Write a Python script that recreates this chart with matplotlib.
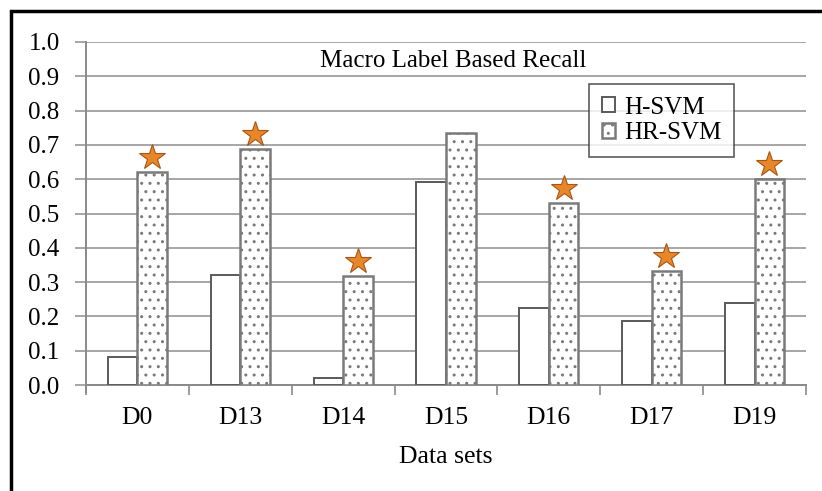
import matplotlib
matplotlib.use("Agg")
import numpy as np
import matplotlib.pyplot as plt
import matplotlib.transforms as mtransforms
from matplotlib.patches import Rectangle

# data
DATASETS = ["D0", "D13", "D14", "D15", "D16", "D17", "D19"]
H_SVM = [0.083, 0.32, 0.02, 0.593, 0.224, 0.187, 0.24]
HR_SVM = [0.62, 0.687, 0.318, 0.735, 0.53, 0.333, 0.60]
STARRED = [True, True, True, False, True, True, True]
Y_TICKS = [0.0, 0.1, 0.2, 0.3, 0.4, 0.5, 0.6, 0.7, 0.8, 0.9, 1.0]

plt.rcParams["font.family"] = ["Liberation Serif", "DejaVu Serif"]
plt.rcParams["hatch.color"] = "#9a9a9a"
plt.rcParams["hatch.linewidth"] = 1.0

W, H = 822, 491
fig = plt.figure(figsize=(W / 100, H / 100), dpi=100)
ax = fig.add_axes([86 / W, 1 - 385 / H, 720 / W, 343 / H])

# outer frame (only left and top edges visible in the picture)
fig.patches.append(Rectangle((11 / W, -0.2), 1.2, 1 - 11 / H + 0.2,
                             transform=fig.transFigure, fill=False,
                             edgecolor="black", linewidth=2.5, zorder=0))

x = np.arange(len(DATASETS))
bw = 0.287
ax.bar(x - bw / 2, H_SVM, bw, color="white", edgecolor="#5a5a5a",
       linewidth=1.4, label="H-SVM", zorder=3)
ax.bar(x + bw / 2, HR_SVM, bw, color="white", edgecolor="#7a7a7a",
       linewidth=1.8, hatch="..", label="HR-SVM", zorder=3)

# stars above selected HR-SVM bars
star_tr = mtransforms.offset_copy(ax.transData, fig=fig, x=0, y=11, units="points")
for xi, v, s in zip(x, HR_SVM, STARRED):
    if s:
        ax.plot(xi + bw / 2, v, marker="*", markersize=19, color="#e8862a",
                markeredgecolor="#a85515", markeredgewidth=0.8,
                transform=star_tr, zorder=5, clip_on=False)

ax.set_xlim(-0.5, len(DATASETS) - 0.5)
ax.set_ylim(0, 1.0)
ax.set_yticks(Y_TICKS)
ax.set_yticklabels([f"{t:.1f}" for t in Y_TICKS], fontsize=18)
ax.yaxis.grid(True, color="#a6a6a6", linewidth=1.4, zorder=0)
ax.set_axisbelow(True)

# category separators as ticks
ax.set_xticks(np.arange(len(DATASETS) + 1) - 0.5)
ax.set_xticklabels([])
ax.set_xticks(x, minor=True)
ax.set_xticklabels(DATASETS, minor=True, fontsize=18.5)
ax.tick_params(axis="x", which="major", length=7, color="#8a8a8a", width=1.2)
ax.tick_params(axis="x", which="minor", length=0, pad=16)
ax.tick_params(axis="y", length=8, color="#a6a6a6", width=1.4, pad=11)
ax.set_xlabel("Data sets", fontsize=18.5, labelpad=12)

for side in ["top", "right"]:
    ax.spines[side].set_visible(False)
ax.spines["left"].set_color("#8a8a8a")
ax.spines["left"].set_linewidth(1.4)
ax.spines["left"].set_bounds(-0.02, 1.0)
ax.spines["bottom"].set_color("#8a8a8a")
ax.spines["bottom"].set_linewidth(1.4)

ax.text(0.51, 0.945, "Macro Label Based Recall", transform=ax.transAxes,
        ha="center", va="center", fontsize=18,
        bbox=dict(facecolor="white", edgecolor="none", pad=1))

leg = ax.legend(loc="upper left", bbox_to_anchor=((589 - 86) / 720, (385 - 84) / 343),
                fontsize=18, frameon=True, fancybox=False, edgecolor="#333333",
                handlelength=0.55, handleheight=0.55, handletextpad=0.35,
                borderpad=0.5, labelspacing=0.15, borderaxespad=0)
leg.get_frame().set_linewidth(1.2)

fig.savefig("out.png", dpi=100)
